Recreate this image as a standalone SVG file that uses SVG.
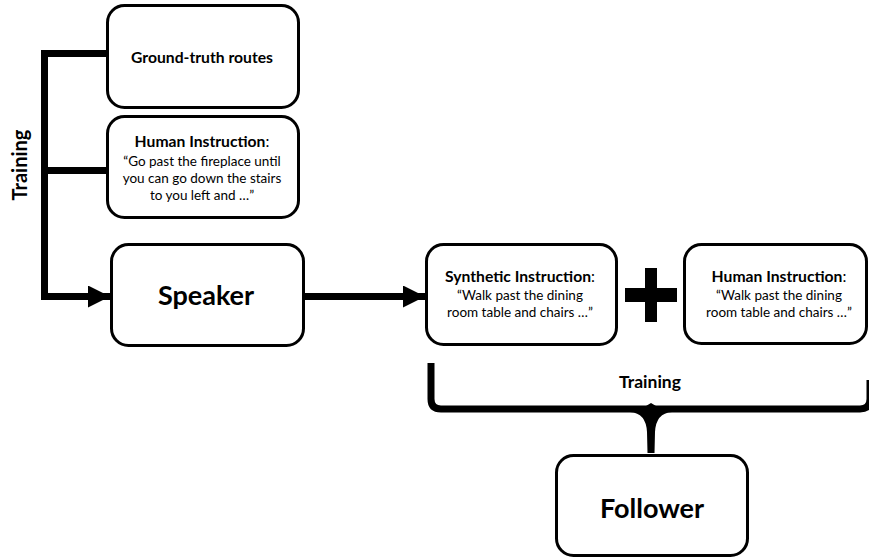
<svg xmlns="http://www.w3.org/2000/svg" width="869" height="558" viewBox="0 0 869 558">
  <defs>
    <style>
      .box { fill: #ffffff; stroke: #000000; stroke-width: 3; }
      .wire { fill: none; stroke: #000000; stroke-width: 7; }
      .t { font-family: Lato, "Liberation Sans", sans-serif; fill: #000000; text-anchor: middle; }
      .b { font-weight: bold; }
      .title { font-size: 15.7px; font-weight: bold; }
      .body { font-size: 13.5px; }
      .big { font-size: 27px; font-weight: bold; }
    </style>
    <marker id="head" viewBox="0 0 22 22" refX="22" refY="11" markerWidth="22" markerHeight="22" markerUnits="userSpaceOnUse" orient="auto">
      <path d="M0 0 L22 11 L0 22 Z" fill="#000000"/>
    </marker>
  </defs>

  <rect width="869" height="558" fill="#ffffff"/>

  <!-- connectors -->
  <g id="connectors">
    <!-- training bracket feeding the speaker -->
    <path class="wire" d="M107 53.5 H44.5 V296.5 H110" marker-end="url(#head)" stroke-linejoin="miter"/>
    <path class="wire" d="M44.5 170.5 H107"/>
    <!-- speaker to synthetic instruction -->
    <path class="wire" d="M305 296.5 H425" marker-end="url(#head)"/>
    <!-- brace gathering both instruction sets into the follower -->
    <path class="wire" d="M431 363 V399 Q431 409 441 409 H860 Q870 409 870 399 V380"/>
    <path d="M630 412 Q646 413 647 432 L647.5 453 L654.5 453 L655 432 Q656 413 672 412 Z M646 406 L651 403 L656 406 Z" fill="#000000"/>
    <text class="t b" x="650" y="388" font-size="17.5">Training</text>
    <text class="t b" transform="translate(27 165) rotate(-90)" font-size="20">Training</text>
    <!-- plus sign -->
    <rect x="645" y="268" width="12" height="54" fill="#000000"/>
    <rect x="625" y="288" width="52" height="14" fill="#000000"/>
  </g>

  <g id="ground-truth">
    <rect class="box" x="107.5" y="5.5" width="191" height="102" rx="17"/>
    <text class="t title" x="202" y="63">Ground-truth routes</text>
  </g>

  <g id="human-instruction-train">
    <rect class="box" x="107.5" y="116.5" width="191" height="101" rx="17"/>
    <text class="t title" x="202" y="147">Human Instruction<tspan font-weight="normal">:</tspan></text>
    <text class="t body" x="202" y="166">“Go past the fireplace until</text>
    <text class="t body" x="202" y="183">you can go down the stairs</text>
    <text class="t body" x="202" y="200">to you left and …”</text>
  </g>

  <g id="speaker">
    <rect class="box" x="111.5" y="244.5" width="192" height="101" rx="17"/>
    <text class="t big" x="206" y="305">Speaker</text>
  </g>

  <g id="synthetic-instruction">
    <rect class="box" x="426.5" y="244.5" width="190" height="100" rx="17"/>
    <text class="t title" x="520" y="282">Synthetic Instruction<tspan font-weight="normal">:</tspan></text>
    <text class="t body" x="520" y="300">“Walk past the dining</text>
    <text class="t body" x="520" y="317">room table and chairs …”</text>
  </g>

  <g id="human-instruction-follow">
    <rect class="box" x="684.5" y="244.5" width="182" height="99" rx="17"/>
    <text class="t title" x="779" y="282">Human Instruction<tspan font-weight="normal">:</tspan></text>
    <text class="t body" x="779" y="300">“Walk past the dining</text>
    <text class="t body" x="779" y="317">room table and chairs …”</text>
  </g>

  <g id="follower">
    <rect class="box" x="556.5" y="455.5" width="191" height="100" rx="17"/>
    <text class="t big" x="652" y="518">Follower</text>
  </g>
</svg>
